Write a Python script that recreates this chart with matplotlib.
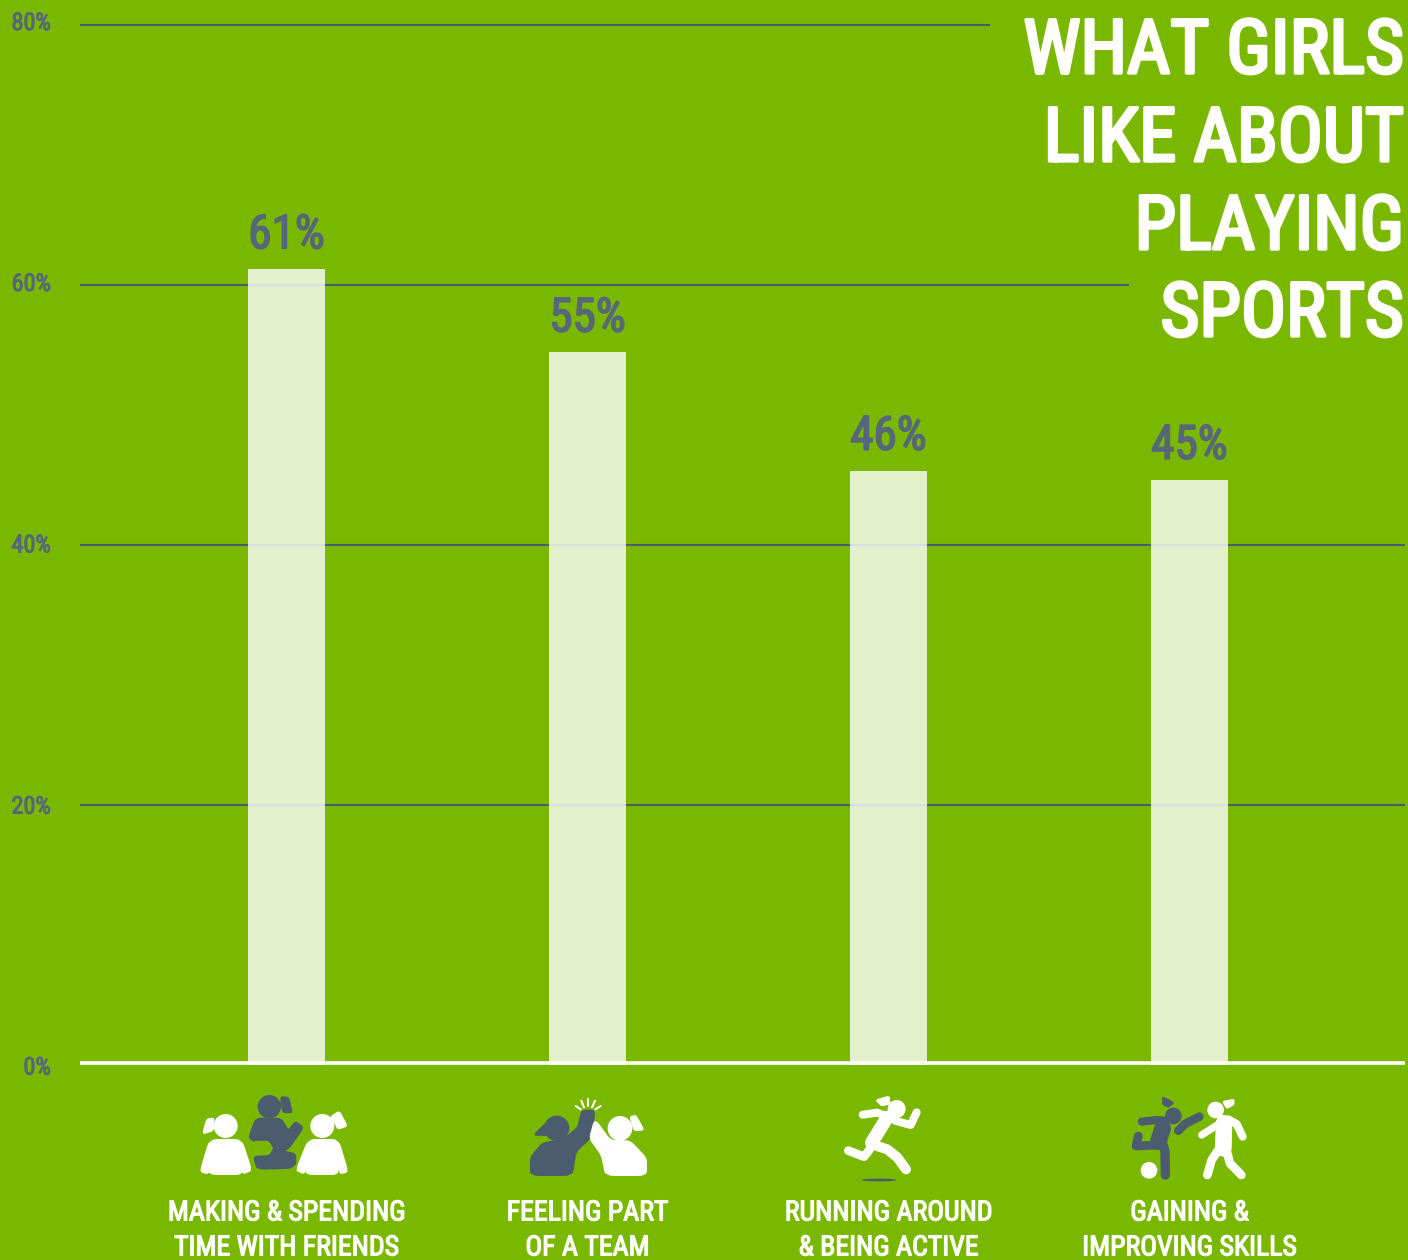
import matplotlib
matplotlib.use("Agg")
import matplotlib.pyplot as plt
import matplotlib.patheffects as pe
from matplotlib.patches import Polygon, Circle, Ellipse
from matplotlib.transforms import ScaledTranslation
from matplotlib import font_manager as fm

# ---------- data ----------
categories = ["MAKING & SPENDING\nTIME WITH FRIENDS", "FEELING PART\nOF A TEAM",
              "RUNNING AROUND\n& BEING ACTIVE", "GAINING &\nIMPROVING SKILLS"]
bar_heights = [61.2, 54.8, 45.7, 45.0]
value_labels = ["61%", "55%", "46%", "45%"]
y_ticks = [0, 20, 40, 60, 80]
y_tick_labels = ["0%", "20%", "40%", "60%", "80%"]
grid_right_ends = [3.716, 3.716, 3.716, 2.799, 2.337]
title_lines = ["WHAT GIRLS", "LIKE ABOUT", "PLAYING", "SPORTS"]

GREEN = "#7AB800"
SLATE = "#4A5C6E"
LABEL = "#56677A"
W, H = 1408, 1260
DPI = 100

names = {f.name for f in fm.fontManager.ttflist}
cond = [n for n in ["Liberation Sans Narrow", "Roboto Condensed", "Open Sans Condensed"] if n in names]
plt.rcParams["font.family"] = cond + ["Liberation Sans", "DejaVu Sans"]


def heavy(t, col, lw):
    t.set_path_effects([pe.withStroke(linewidth=lw, foreground=col)])


fig = plt.figure(figsize=(W / DPI, H / DPI), dpi=DPI, facecolor=GREEN)
ax = fig.add_axes([80 / W, 1 - 1064.5 / H, (1405 - 80) / W, (1064.5 - 25) / H])
ax.set_facecolor("none")
ax.set_xlim(-0.686, 3.716)
ax.set_ylim(0, 80)
for k, s in ax.spines.items():
    s.set_visible(k == "bottom")
ax.spines["bottom"].set_color("white")
ax.spines["bottom"].set_linewidth(2.6)
ax.spines["bottom"].set_capstyle("butt")
ax.spines["bottom"].set_position(("outward", -0.9))
ax.spines["bottom"].set_zorder(5)

xs = list(range(len(categories)))
for y, r in zip(y_ticks[1:], grid_right_ends[1:]):
    ax.plot([-0.686, r], [y, y], color=SLATE, lw=1.5, solid_capstyle="butt", zorder=1, clip_on=False)
ax.bar(xs, bar_heights, width=0.256, color="white", alpha=0.8, zorder=2)

for x, h, t in zip(xs, bar_heights, value_labels):
    a = ax.annotate(t, (x, h), xytext=(0, 21), textcoords="offset pixels", ha="center", va="baseline",
                    fontsize=34, color=LABEL)
    heavy(a, LABEL, 1.2)

ax.set_yticks(y_ticks, y_tick_labels)
ax.tick_params(axis="y", length=0, pad=21, labelsize=17.5, labelcolor=LABEL)
offs = {0: -1, 20: 0, 40: 1.5, 60: 3, 80: 4}
for lab, v in zip(ax.get_yticklabels(), y_ticks):
    lab.set_transform(lab.get_transform() + ScaledTranslation(0, offs[v] / DPI, fig.dpi_scale_trans))
    heavy(lab, LABEL, 0.7)

ax.set_xticks(xs, categories)
ax.tick_params(axis="x", length=0, pad=98, labelsize=20, labelcolor="white")
for lab in ax.get_xticklabels():
    lab.set_linespacing(1.38)
    heavy(lab, "white", 0.9)

# title
for line, base in zip(title_lines, [73, 161, 249, 336]):
    t = fig.text(1404 / W, 1 - base / H, line, ha="right", va="baseline", color="white", fontsize=54)
    heavy(t, "white", 2.4)

# ---------- pictograms on a pixel overlay ----------
ov = fig.add_axes([0, 0, 1, 1])
ov.set_xlim(0, W)
ov.set_ylim(H, 0)
ov.axis("off")
ov.patch.set_alpha(0)


def z1(p):
    return (180 + p[0] / 3, 1080 + p[1] / 3)


def z2(p):
    return (780 + p[0] / 3, 1080 + p[1] / 3)


def chaikin(pts, n=2, c=0.13):
    for _ in range(n):
        out = []
        for i in range(len(pts)):
            a, b = pts[i], pts[(i + 1) % len(pts)]
            out.append(((1 - c) * a[0] + c * b[0], (1 - c) * a[1] + c * b[1]))
            out.append((c * a[0] + (1 - c) * b[0], c * a[1] + (1 - c) * b[1]))
        pts = out
    return pts


def circ(f, c, r, col):
    ov.add_patch(Circle(f(c), r / 3, fc=col, ec="none"))


def poly(f, pts, col, round_px=2):
    ov.add_patch(Polygon([f(p) for p in chaikin(pts)], closed=True, fc=col, ec=col,
                         lw=round_px * 72 / DPI, joinstyle="round"))


def limb(f, pts, width, col):
    x, y = zip(*[f(p) for p in pts])
    ov.plot(x, y, color=col, lw=width / 3 * 72 / DPI, solid_capstyle="round", solid_joinstyle="round")


# friends
circ(z1, (137, 138), 36, "white")
poly(z1, [(102, 114), (80, 117), (68, 162), (100, 152)], "white", 1)
poly(z1, [(90, 180), (184, 180), (213, 270), (190, 280), (182, 250), (184, 282), (90, 282), (92, 250), (84, 280), (62, 274)], "white")
circ(z1, (268, 80), 35, SLATE)
poly(z1, [(303, 50), (326, 52), (337, 98), (310, 98), (303, 78)], SLATE, 1)
poly(z1, [(228, 116), (302, 116), (325, 153), (347, 126), (369, 143), (326, 204), (306, 214), (345, 222),
          (346, 252), (330, 264), (232, 266), (222, 230), (272, 226), (282, 205), (272, 184), (224, 184), (208, 172)], SLATE)
limb(z1, [(226, 186), (262, 186), (275, 205), (262, 222), (224, 224)], 7, GREEN)
circ(z1, (427, 138), 36, "white")
poly(z1, [(452, 110), (478, 93), (502, 138), (474, 148), (462, 125)], "white", 1)
poly(z1, [(386, 180), (474, 180), (502, 274), (482, 280), (470, 250), (472, 282), (380, 282), (380, 250), (372, 280), (350, 270)], "white")

# high five
circ(z1, (1130, 145), 38, SLATE)
poly(z1, [(1100, 126), (1060, 166), (1108, 166)], SLATE, 1)
poly(z1, [(1053, 285), (1053, 232), (1088, 190), (1150, 180), (1195, 142), (1206, 92), (1244, 92), (1232, 172),
          (1186, 215), (1176, 285)], SLATE)
circ(z1, (1320, 145), 37, "white")
poly(z1, [(1350, 110), (1368, 106), (1392, 150), (1362, 152)], "white", 1)
poly(z1, [(1245, 120), (1290, 182), (1350, 184), (1398, 235), (1398, 285), (1278, 285), (1266, 225), (1230, 175)], "white")
for a, b in [((1187, 78), (1202, 88)), ((1204, 62), (1212, 82)), ((1224, 58), (1224, 78)),
             ((1245, 62), (1236, 82)), ((1262, 78), (1246, 88))]:
    limb(z1, [a, b], 6, "white")

# runner
circ(z2, (350, 87), 27, "white")
poly(z2, [(287, 60), (328, 48), (330, 72), (305, 78)], "white", 1)
limb(z2, [(248, 104), (292, 98), (335, 115)], 24, "white")
limb(z2, [(345, 122), (392, 135), (410, 97)], 24, "white")
limb(z2, [(322, 112), (275, 188)], 40, "white")
limb(z2, [(272, 192), (322, 208), (352, 232), (378, 268)], 30, "white")
limb(z2, [(268, 210), (252, 230), (205, 212)], 26, "white")
ov.add_patch(Ellipse(z2((297, 300)), 35, 2.8, fc=SLATE, ec="none"))

# kicker
circ(z2, (1180, 108), 25, SLATE)
poly(z2, [(1148, 50), (1182, 68), (1166, 82), (1148, 74)], SLATE, 1)
limb(z2, [(1085, 125), (1130, 120), (1155, 122)], 24, SLATE)
limb(z2, [(1195, 152), (1215, 132), (1258, 110)], 26, SLATE)
limb(z2, [(1148, 145), (1135, 185)], 50, SLATE)
limb(z2, [(1135, 195), (1068, 198), (1075, 168)], 26, SLATE)
limb(z2, [(1145, 180), (1155, 215), (1156, 285)], 28, SLATE)
circ(z2, (1107, 271), 25, "white")
circ(z2, (1307, 90), 25, "white")
poly(z2, [(1328, 64), (1362, 58), (1362, 74), (1340, 86)], "white", 1)
limb(z2, [(1312, 135), (1265, 165)], 22, "white")
limb(z2, [(1345, 118), (1370, 132), (1388, 170)], 24, "white")
limb(z2, [(1332, 130), (1330, 205)], 50, "white")
limb(z2, [(1318, 205), (1295, 240), (1282, 285)], 26, "white")
limb(z2, [(1338, 205), (1350, 250), (1384, 285)], 26, "white")

fig.savefig("out.png", dpi=DPI, facecolor=GREEN)
